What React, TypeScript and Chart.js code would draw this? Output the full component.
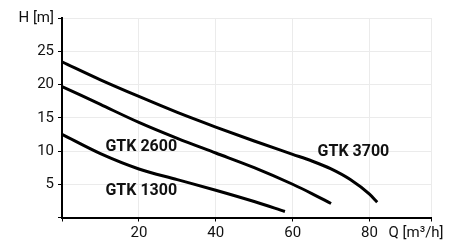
import React, { useEffect, useRef } from "react";
import { Chart, registerables } from "chart.js";

Chart.register(...registerables);

// ---- data ----
const q3700 = [0, 10, 20, 30, 40, 50, 60, 65, 70, 75, 80, 82];
const h3700 = [23.4, 20.7, 18.2, 15.8, 13.6, 11.5, 9.5, 8.5, 7.3, 5.7, 3.5, 2.3];
const q2600 = [0, 10, 20, 30, 40, 50, 60, 65, 70];
const h2600 = [19.7, 17.0, 14.3, 11.9, 9.7, 7.5, 5.0, 3.6, 2.1];
const q1300 = [0, 10, 20, 30, 40, 50, 58];
const h1300 = [12.5, 9.6, 7.3, 5.7, 4.1, 2.4, 0.9];

const seriesNames = ["GTK 3700", "GTK 2600", "GTK 1300"];
const labelQ = [66.5, 11.3, 11.3];
const labelH = [9.8, 10.6, 4.0];

const xTicks = [0, 20, 40, 60, 80, 96];
const yTicks = [0, 5, 10, 15, 20, 25, 30];
const xMax = 96;
const yMax = 30;
const xUnit = "Q [m³/h]";
const yUnit = "H [m]";

const FONT = "Roboto, 'Noto Sans', sans-serif";
const TICK_SIZE = 15;
const TICK_PAD = 3;
const TICK_LEN = 4;

const toPts = (qs: number[], hs: number[]) => qs.map((q, i) => ({ x: q, y: hs[i] }));

const textPlugin = {
  id: "curveLabels",
  afterDraw(chart: any) {
    const ctx = chart.ctx;
    const xs = chart.scales.x;
    const ys = chart.scales.y;
    ctx.save();
    ctx.fillStyle = "#111";
    ctx.textBaseline = "middle";
    ctx.textAlign = "left";
    ctx.font = `bold 16px ${FONT}`;
    seriesNames.forEach((n, i) => {
      ctx.fillText(n, xs.getPixelForValue(labelQ[i]), ys.getPixelForValue(labelH[i]));
    });
    ctx.font = `${TICK_SIZE}px ${FONT}`;
    const yy = chart.chartArea.bottom + TICK_LEN + TICK_PAD + (TICK_SIZE * 1.2) / 2;
    ctx.fillText(xUnit, xs.getPixelForValue(80) + 19, yy);
    ctx.restore();
  },
};

export default function App() {
  const ref = useRef<HTMLCanvasElement | null>(null);
  useEffect(() => {
    document.body.style.margin = "0";
    const chart = new Chart(ref.current as HTMLCanvasElement, {
      type: "line",
      data: {
        datasets: [
          { label: seriesNames[0], data: toPts(q3700, h3700) },
          { label: seriesNames[1], data: toPts(q2600, h2600) },
          { label: seriesNames[2], data: toPts(q1300, h1300) },
        ].map((d) => ({
          ...d,
          borderColor: "#000",
          borderWidth: 3,
          pointRadius: 0,
          fill: false,
          cubicInterpolationMode: "monotone" as const,
          borderCapStyle: "butt" as const,
        })),
      },
      options: {
        responsive: false,
        animation: false,
        devicePixelRatio: 1,
        layout: { padding: { left: 0, top: 18, right: 29, bottom: 0 } },
        plugins: { legend: { display: false }, tooltip: { enabled: false } },
        scales: {
          x: {
            type: "linear",
            min: 0,
            max: xMax,
            afterBuildTicks: (s: any) => {
              s.ticks = xTicks.map((v) => ({ value: v }));
            },
            afterFit: (s: any) => {
              s.height = 26.5;
            },
            ticks: {
              autoSkip: false,
              maxRotation: 0,
              padding: TICK_PAD,
              color: "#111",
              font: { family: FONT, size: TICK_SIZE },
              callback: (v: any) => (v === 0 || v === xMax ? "" : String(v)),
            },
            grid: { color: "#ebebeb", tickColor: "#000", tickLength: TICK_LEN, lineWidth: 1 },
            border: { color: "#000", width: 2 },
          },
          y: {
            type: "linear",
            min: 0,
            max: yMax,
            afterBuildTicks: (s: any) => {
              s.ticks = yTicks.map((v) => ({ value: v }));
            },
            afterFit: (s: any) => {
              s.width = 62;
            },
            ticks: {
              autoSkip: false,
              padding: 4,
              color: "#111",
              font: { family: FONT, size: TICK_SIZE },
              callback: (v: any) => (v === 0 ? "" : v === yMax ? yUnit : String(v)),
            },
            grid: { color: "#ebebeb", tickColor: "#000", tickLength: TICK_LEN, lineWidth: 1 },
            border: { color: "#000", width: 2 },
          },
        },
      },
      plugins: [textPlugin],
    });
    return () => chart.destroy();
  }, []);
  return (
    <div style={{ width: 460, height: 244, background: "#fff" }}>
      <canvas ref={ref} width={460} height={244} style={{ display: "block" }} />
    </div>
  );
}
